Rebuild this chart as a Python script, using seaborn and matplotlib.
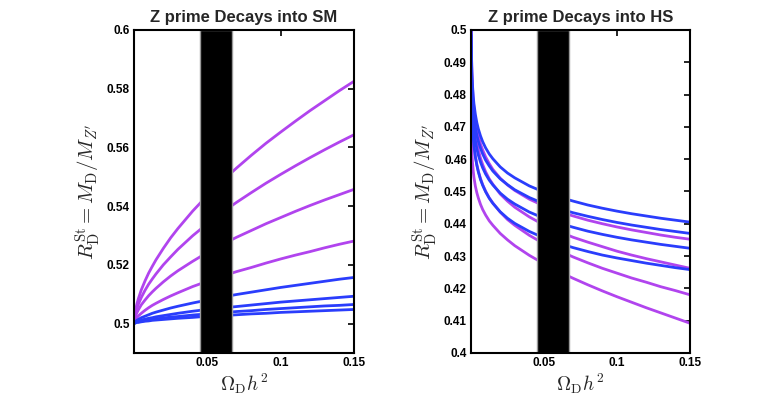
import matplotlib
matplotlib.use("Agg")
import matplotlib.pyplot as plt
import seaborn as sns
import pandas as pd

sns.set_style("white")
plt.rcParams['font.family'] = ['Liberation Sans', 'DejaVu Sans']
plt.rcParams['mathtext.fontset'] = 'cm'

# datos
x_sm = [0, 0.0005, 0.001, 0.002, 0.003, 0.005, 0.0075, 0.01, 0.0125, 0.015, 0.02, 0.025,
        0.03, 0.04, 0.05, 0.06, 0.07, 0.08, 0.09, 0.1, 0.11, 0.12, 0.13, 0.14, 0.15]
sm_purple = [
    [0.5, 0.5030, 0.5045, 0.5067, 0.5085, 0.5115, 0.5145, 0.5172, 0.5195, 0.5217, 0.5256, 0.5292,
     0.5324, 0.5383, 0.5436, 0.5485, 0.5530, 0.5573, 0.5614, 0.5652, 0.5689, 0.5725, 0.5759, 0.5793, 0.5825],
    [0.5, 0.5024, 0.5035, 0.5053, 0.5066, 0.5089, 0.5113, 0.5134, 0.5152, 0.5169, 0.5200, 0.5227,
     0.5253, 0.5299, 0.5340, 0.5378, 0.5413, 0.5446, 0.5478, 0.5508, 0.5537, 0.5565, 0.5592, 0.5618, 0.5643],
    [0.5, 0.5017, 0.5025, 0.5037, 0.5047, 0.5064, 0.5080, 0.5095, 0.5108, 0.5120, 0.5142, 0.5162,
     0.5180, 0.5212, 0.5242, 0.5269, 0.5294, 0.5317, 0.5340, 0.5361, 0.5382, 0.5402, 0.5421, 0.5439, 0.5457],
    [0.5, 0.5009, 0.5013, 0.5020, 0.5026, 0.5035, 0.5045, 0.5054, 0.5062, 0.5069, 0.5082, 0.5094,
     0.5105, 0.5126, 0.5144, 0.5161, 0.5177, 0.5191, 0.5206, 0.5220, 0.5233, 0.5245, 0.5258, 0.5270, 0.5281],
]
sm_blue = [
    [0.5, 0.5005, 0.5007, 0.5011, 0.5014, 0.5020, 0.5025, 0.5030, 0.5035, 0.5039, 0.5046, 0.5053,
     0.5059, 0.5070, 0.5080, 0.5090, 0.5099, 0.5107, 0.5115, 0.5123, 0.5130, 0.5137, 0.5144, 0.5151, 0.5157],
    [0.5, 0.5003, 0.5004, 0.5007, 0.5009, 0.5012, 0.5015, 0.5018, 0.5020, 0.5023, 0.5027, 0.5031,
     0.5035, 0.5042, 0.5048, 0.5053, 0.5058, 0.5063, 0.5068, 0.5073, 0.5077, 0.5081, 0.5085, 0.5089, 0.5093],
    [0.5, 0.5002, 0.5003, 0.5005, 0.5006, 0.5008, 0.5010, 0.5012, 0.5014, 0.5016, 0.5019, 0.5022,
     0.5024, 0.5029, 0.5033, 0.5037, 0.5041, 0.5044, 0.5048, 0.5051, 0.5054, 0.5057, 0.5060, 0.5062, 0.5065],
    [0.5, 0.5002, 0.5002, 0.5004, 0.5004, 0.5006, 0.5008, 0.5009, 0.5011, 0.5012, 0.5014, 0.5016,
     0.5018, 0.5021, 0.5025, 0.5027, 0.5030, 0.5033, 0.5035, 0.5038, 0.5040, 0.5042, 0.5044, 0.5046, 0.5048],
]

x_hs = [0.0001, 0.0003, 0.0005, 0.00075, 0.001, 0.0015, 0.002, 0.003, 0.004, 0.005, 0.0065, 0.008,
        0.01, 0.0125, 0.015, 0.02, 0.025, 0.03, 0.04, 0.05, 0.06, 0.07, 0.08, 0.09, 0.1, 0.11,
        0.12, 0.13, 0.14, 0.15]
hs_blue = [
    [0.5027, 0.4933, 0.4890, 0.4855, 0.4831, 0.4796, 0.4772, 0.4738, 0.4713, 0.4694, 0.4672, 0.4654,
     0.4635, 0.4616, 0.4601, 0.4576, 0.4557, 0.4542, 0.4517, 0.4498, 0.4483, 0.4470, 0.4458, 0.4448,
     0.4439, 0.4431, 0.4424, 0.4417, 0.4411, 0.4405],
    [0.4984, 0.4892, 0.4849, 0.4815, 0.4791, 0.4757, 0.4733, 0.4699, 0.4674, 0.4656, 0.4634, 0.4616,
     0.4597, 0.4579, 0.4563, 0.4539, 0.4521, 0.4505, 0.4481, 0.4462, 0.4447, 0.4434, 0.4423, 0.4413,
     0.4404, 0.4396, 0.4389, 0.4382, 0.4376, 0.4370],
    [0.4946, 0.4852, 0.4809, 0.4774, 0.4750, 0.4715, 0.4691, 0.4657, 0.4632, 0.4613, 0.4591, 0.4573,
     0.4554, 0.4535, 0.4520, 0.4495, 0.4476, 0.4461, 0.4436, 0.4417, 0.4402, 0.4389, 0.4377, 0.4367,
     0.4358, 0.4350, 0.4343, 0.4336, 0.4330, 0.4324],
    [0.4909, 0.4811, 0.4766, 0.4730, 0.4704, 0.4668, 0.4642, 0.4606, 0.4581, 0.4561, 0.4537, 0.4519,
     0.4499, 0.4479, 0.4463, 0.4437, 0.4417, 0.4401, 0.4376, 0.4356, 0.4340, 0.4326, 0.4314, 0.4303,
     0.4294, 0.4286, 0.4278, 0.4271, 0.4264, 0.4258],
]
hs_purple = [
    [0.5039, 0.4936, 0.4888, 0.4850, 0.4823, 0.4785, 0.4758, 0.4720, 0.4693, 0.4672, 0.4647, 0.4628,
     0.4607, 0.4586, 0.4568, 0.4541, 0.4520, 0.4503, 0.4476, 0.4455, 0.4438, 0.4424, 0.4411, 0.4400,
     0.4390, 0.4381, 0.4373, 0.4365, 0.4358, 0.4352],
    [0.5002, 0.4897, 0.4849, 0.4810, 0.4783, 0.4744, 0.4716, 0.4678, 0.4650, 0.4629, 0.4603, 0.4583,
     0.4561, 0.4539, 0.4522, 0.4492, 0.4470, 0.4451, 0.4421, 0.4396, 0.4376, 0.4358, 0.4343, 0.4329,
     0.4315, 0.4303, 0.4292, 0.4282, 0.4272, 0.4262],
    [0.4899, 0.4805, 0.4762, 0.4727, 0.4703, 0.4668, 0.4643, 0.4609, 0.4583, 0.4563, 0.4540, 0.4521,
     0.4501, 0.4480, 0.4464, 0.4436, 0.4413, 0.4395, 0.4364, 0.4338, 0.4317, 0.4297, 0.4279, 0.4262,
     0.4247, 0.4232, 0.4219, 0.4205, 0.4193, 0.4180],
    [0.4747, 0.4673, 0.4638, 0.4611, 0.4592, 0.4564, 0.4544, 0.4516, 0.4496, 0.4480, 0.4460, 0.4444,
     0.4427, 0.4409, 0.4395, 0.4370, 0.4350, 0.4332, 0.4302, 0.4276, 0.4252, 0.4231, 0.4211, 0.4192,
     0.4174, 0.4157, 0.4140, 0.4124, 0.4108, 0.4092],
]

banda = (0.045, 0.067)
azul = '#2a3dfc'
morado = '#b144ee'


def armar_df(xs, morados, azules):
    filas = []
    for i, ys in enumerate(morados):
        for x, y in zip(xs, ys):
            filas.append({'x': x, 'R': y, 'curva': 'p%d' % i, 'tipo': 'morado'})
    for i, ys in enumerate(azules):
        for x, y in zip(xs, ys):
            filas.append({'x': x, 'R': y, 'curva': 'b%d' % i, 'tipo': 'azul'})
    return pd.DataFrame(filas)


fig = plt.figure(figsize=(7.63, 3.97), dpi=100)
ax1 = fig.add_axes([0.1756, 0.111, 0.2883, 0.8136])
ax2 = fig.add_axes([0.6173, 0.111, 0.287, 0.8136])

paneles = [
    (ax1, armar_df(x_sm, sm_purple, sm_blue), 'Z prime Decays into SM',
     (0.49, 0.6), [0.5, 0.52, 0.54, 0.56, 0.58, 0.6], ['0.5', '0.52', '0.54', '0.56', '0.58', '0.6']),
    (ax2, armar_df(x_hs, hs_purple, hs_blue), 'Z prime Decays into HS',
     (0.4, 0.5), [0.4 + 0.01 * k for k in range(11)],
     ['0.4', '0.41', '0.42', '0.43', '0.44', '0.45', '0.46', '0.47', '0.48', '0.49', '0.5']),
]

for ax, df, titulo, ylim, yt, ytl in paneles:
    sns.lineplot(data=df, x='x', y='R', hue='tipo', units='curva', estimator=None,
                 palette={'morado': morado, 'azul': azul}, sort=False,
                 linewidth=2.0, legend=False, ax=ax, zorder=2)
    ax.axvspan(banda[0], banda[1], facecolor='black', edgecolor='0.6', lw=1.0, zorder=3)
    ax.set_xlim(0, 0.15)
    ax.set_ylim(*ylim)
    ax.set_xticks([0.05, 0.1, 0.15])
    ax.set_xticklabels(['0.05', '0.1', '0.15'])
    ax.set_yticks(yt)
    ax.set_yticklabels(ytl)
    ax.tick_params(direction='in', length=4, width=1.2, top=True, right=True,
                   labelsize=8.5, pad=3, colors='black')
    for lab in ax.get_xticklabels() + ax.get_yticklabels():
        lab.set_fontweight('bold')
    for s in ax.spines.values():
        s.set_visible(True)
        s.set_color('black')
        s.set_linewidth(1.5)
        s.set_zorder(5)
    ax.set_title(titulo, fontsize=12, fontweight='bold', pad=6)
    ax.set_xlabel(r'$\Omega_{\rm D} h^2$', fontsize=14, labelpad=2)
    ax.set_ylabel(r'$R_{\rm D}^{\rm St} = M_{\rm D}/M_{Z^\prime}$', fontsize=15, labelpad=3)

fig.savefig('out.png', dpi=100, facecolor='white')
